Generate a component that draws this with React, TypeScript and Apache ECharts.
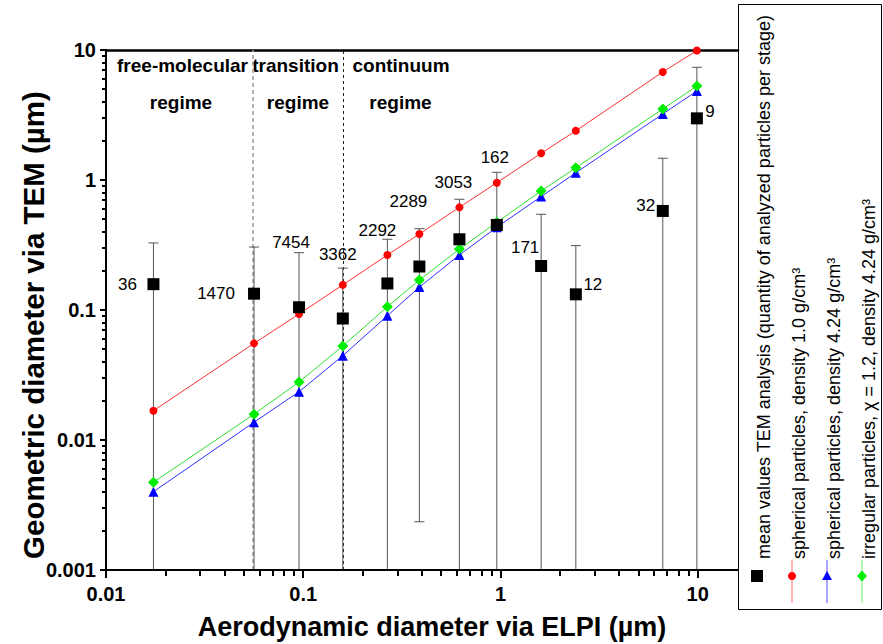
import { useEffect, useRef } from "react";
import * as echarts from "echarts";

const FONT = "'Liberation Sans', Arial, Helvetica, sans-serif";

// ELPI stage aerodynamic diameters (µm)
const stageDiameters = [0.0174, 0.0563, 0.0952, 0.1587, 0.267, 0.388, 0.619, 0.958, 1.607, 2.41, 6.65, 9.9];
// Mean geometric diameter via TEM (µm)
const temMean = [0.158, 0.1335, 0.105, 0.086, 0.16, 0.216, 0.35, 0.451, 0.218, 0.132, 0.578, 2.98];
// Error bar ends (null = below the axis range)
const temUpper = [0.328, 0.305, 0.276, 0.21, 0.35, 0.422, 0.711, 1.146, 0.545, 0.313, 1.47, 7.36];
const temLower: (number | null)[] = [null, null, null, null, null, 0.00235, null, null, null, null, null, null];
// Quantity of analyzed particles per stage
const particleCounts = [36, 1470, 7454, 3362, 2292, 2289, 3053, 162, 171, 12, 32, 9];
// Model curves
const sphericalDensity1 = [0.0168, 0.0554, 0.0931, 0.156, 0.265, 0.384, 0.616, 0.953, 1.605, 2.39, 6.78, 9.9];
const sphericalDensity424 = [0.004, 0.0137, 0.0235, 0.0445, 0.0903, 0.15, 0.265, 0.433, 0.745, 1.137, 3.22, 4.84];
const irregularDensity424 = [0.00473, 0.0158, 0.0279, 0.0528, 0.106, 0.17, 0.294, 0.473, 0.823, 1.243, 3.52, 5.28];
// Regime boundaries (µm)
const regimeBounds = [0.0557, 0.16];
// Tick labels
const xTickValues = [0.01, 0.1, 1, 10];
const xTickLabels = ["0.01", "0.1", "1", "10"];
const yTickValues = [0.001, 0.01, 0.1, 1, 10];
const yTickLabels = ["0.001", "0.01", "0.1", "1", "10"];

const legendNames = [
  "mean values TEM analysis (quantity of analyzed particles per stage)",
  "spherical particles, density 1.0 g/cm\u00B3",
  "spherical particles, density 4.24 g/cm\u00B3",
  "irregular particles, \u03C7 = 1.2, density 4.24 g/cm\u00B3",
];

// label offsets (layout) for the count annotations, px relative to the marker
const countLabelOffsets = [
  [-26, 0], [-38, 0], [-8, -65], [-5, -64], [-10, -53], [-11, -65],
  [-6, -57], [-2, -67], [-16, -19], [17, -10], [-17, -5], [13, -7],
];

const X_MIN = 0.01, X_MAX = 16, Y_MIN = 0.001, Y_MAX = 10;

function minorValues(decades: number[]) {
  const out: number[] = [];
  for (const d of decades) for (let k = 2; k <= 9; k++) out.push(+(d * k).toPrecision(3));
  return out;
}

function labelFor(values: number[], labels: string[]) {
  return (v: number) => {
    for (let i = 0; i < values.length; i++) {
      if (Math.abs(Math.log10(v) - Math.log10(values[i])) < 1e-6) return labels[i];
    }
    return "";
  };
}

export default function App() {
  const ref = useRef<HTMLDivElement>(null);

  useEffect(() => {
    document.body.style.margin = "0";
    const chart = echarts.init(ref.current!, null, { renderer: "svg" });

    const xMinor = minorValues([0.01, 0.1, 1]);
    const yMinor = minorValues([0.001, 0.01, 0.1, 1]);

    const legendX = [757, 792, 827, 862];
    const legendMarkerY = 576;
    const legendColors = ["#000", "#ff0000", "#0000ff", "#00ee00"];
    const legendLineColors = ["#000", "#ff7070", "#5050ff", "#60ee60"];

    const legendGraphics: any[] = [];
    legendNames.forEach((name, i) => {
      const cx = legendX[i];
      if (i > 0) {
        legendGraphics.push({
          type: "line",
          shape: { x1: cx, y1: 560, x2: cx, y2: 603 },
          style: { stroke: legendLineColors[i], lineWidth: 1 },
        });
      }
      if (i === 0) {
        legendGraphics.push({ type: "rect", shape: { x: cx - 6, y: legendMarkerY - 6, width: 12, height: 12 }, style: { fill: "#000" } });
      } else if (i === 1) {
        legendGraphics.push({ type: "circle", shape: { cx, cy: legendMarkerY, r: 4 }, style: { fill: legendColors[i] } });
      } else if (i === 2) {
        legendGraphics.push({
          type: "polygon",
          shape: { points: [[cx, legendMarkerY - 5], [cx + 5, legendMarkerY + 4], [cx - 5, legendMarkerY + 4]] },
          style: { fill: legendColors[i] },
        });
      } else {
        legendGraphics.push({
          type: "polygon",
          shape: { points: [[cx, legendMarkerY - 5.5], [cx + 5, legendMarkerY], [cx, legendMarkerY + 5.5], [cx - 5, legendMarkerY]] },
          style: { fill: legendColors[i] },
        });
      }
      legendGraphics.push({
        type: "text",
        x: cx + 7,
        y: 559,
        rotation: Math.PI / 2,
        style: {
          text: name,
          fill: "#000",
          font: `18px ${FONT}`,
          textAlign: "left",
          textVerticalAlign: "middle",
        },
      });
    });

    const boldText = (text: string, x: number, y: number, size: number, rotation = 0) => ({
      type: "text",
      x,
      y,
      rotation,
      style: {
        text,
        fill: "#000",
        font: `bold ${size}px ${FONT}`,
        textAlign: "center",
        textVerticalAlign: "middle",
      },
    });

    const option: any = {
      animation: false,
      backgroundColor: "#fff",
      grid: { left: 106, right: 145, top: 50, bottom: 74, containLabel: false },
      xAxis: [
        {
          type: "log",
          min: X_MIN,
          max: X_MAX,
          position: "bottom",
          z: 3,
          axisLine: { show: true, lineStyle: { color: "#000", width: 2 } },
          axisTick: { show: true, length: 8, inside: false, lineStyle: { color: "#000", width: 2 }, customValues: xTickValues },
          axisLabel: {
            show: true,
            margin: 14,
            color: "#000",
            fontFamily: FONT,
            fontWeight: "bold",
            fontSize: 20,
            customValues: xTickValues,
            formatter: labelFor(xTickValues, xTickLabels),
          },
          splitLine: { show: false },
          minorTick: { show: false },
        },
        {
          type: "log",
          min: X_MIN,
          max: X_MAX,
          position: "top",
          axisLine: { show: true, onZero: false, lineStyle: { color: "#000", width: 2.5 } },
          axisTick: { show: false },
          axisLabel: { show: false },
          splitLine: { show: false },
        },
        {
          // minor ticks of the bottom axis
          type: "log",
          min: X_MIN,
          max: X_MAX,
          position: "bottom",
          axisLine: { show: false, onZero: false },
          axisTick: { show: true, length: 6, inside: false, lineStyle: { color: "#000", width: 2 }, customValues: xMinor },
          axisLabel: { show: false, customValues: xMinor },
          splitLine: { show: false },
        },
      ],
      yAxis: [
        {
          type: "log",
          min: Y_MIN,
          max: Y_MAX,
          z: 3,
          axisLine: { show: true, lineStyle: { color: "#000", width: 2 } },
          axisTick: { show: true, length: 6, inside: false, lineStyle: { color: "#000", width: 2 }, customValues: yTickValues },
          axisLabel: {
            show: true,
            margin: 10,
            color: "#000",
            fontFamily: FONT,
            fontWeight: "bold",
            fontSize: 20,
            customValues: yTickValues,
            formatter: labelFor(yTickValues, yTickLabels),
          },
          splitLine: { show: false },
        },
        {
          // minor ticks of the left axis
          type: "log",
          min: Y_MIN,
          max: Y_MAX,
          position: "left",
          offset: 0,
          axisLine: { show: false, onZero: false },
          axisTick: { show: true, length: 4, inside: false, lineStyle: { color: "#000", width: 2 }, customValues: yMinor },
          axisLabel: { show: false, customValues: yMinor },
          splitLine: { show: false },
        },
      ],
      series: [
        // error bars
        {
          type: "custom",
          name: "errors",
          silent: true,
          z: 2,
          encode: { x: 0, y: 1 },
          data: stageDiameters.map((x, i) => [x, temUpper[i], temLower[i] == null ? NaN : temLower[i]]),
          renderItem: (_p: any, api: any) => {
            const x = api.value(0);
            const hi = api.value(1);
            const lo = api.value(2);
            const top = api.coord([x, hi]);
            const hasLow = isFinite(lo) && lo > Y_MIN;
            const botY = hasLow ? api.coord([x, lo])[1] : api.coord([x, Y_MIN])[1];
            const stroke = "#555";
            const children: any[] = [
              { type: "line", shape: { x1: top[0], y1: top[1], x2: top[0], y2: botY }, style: { stroke, lineWidth: 1 } },
              { type: "line", shape: { x1: top[0] - 5, y1: top[1], x2: top[0] + 5, y2: top[1] }, style: { stroke, lineWidth: 1 } },
            ];
            if (hasLow) {
              children.push({ type: "line", shape: { x1: top[0] - 5, y1: botY, x2: top[0] + 5, y2: botY }, style: { stroke, lineWidth: 1 } });
            }
            return { type: "group", children };
          },
        },
        {
          type: "line",
          name: legendNames[1],
          data: stageDiameters.map((x, i) => [x, sphericalDensity1[i]]),
          symbol: "circle",
          symbolSize: 8,
          z: 3,
          itemStyle: { color: "#ff0000" },
          lineStyle: { color: "#ff3030", width: 1 },
        },
        {
          type: "line",
          name: legendNames[2],
          data: stageDiameters.map((x, i) => [x, sphericalDensity424[i]]),
          symbol: "triangle",
          symbolSize: 10,
          z: 3,
          itemStyle: { color: "#0000ff" },
          lineStyle: { color: "#3030ff", width: 1 },
        },
        {
          type: "line",
          name: legendNames[3],
          data: stageDiameters.map((x, i) => [x, irregularDensity424[i]]),
          symbol: "diamond",
          symbolSize: 11,
          z: 3,
          itemStyle: { color: "#00ee00" },
          lineStyle: { color: "#30e030", width: 1 },
        },
        {
          type: "scatter",
          name: legendNames[0],
          z: 4,
          symbol: "rect",
          symbolSize: 12,
          itemStyle: { color: "#000", opacity: 1 },
          data: stageDiameters.map((x, i) => ({
            value: [x, temMean[i]],
            label: {
              show: true,
              position: "inside",
              offset: countLabelOffsets[i],
              formatter: String(particleCounts[i]),
              color: "#000",
              opacity: 1,
              fontFamily: FONT,
              fontSize: 17,
            },
          })),
          markLine: {
            silent: true,
            symbol: "none",
            precision: 5,
            label: { show: false },
            z: 1,
            data: [
              { xAxis: regimeBounds[0], lineStyle: { color: "#999", type: [4, 3], width: 1.5, opacity: 1 } },
              { xAxis: regimeBounds[1], lineStyle: { color: "#222", type: [3, 3], width: 1, opacity: 1 } },
            ],
          },
        },
      ],
      graphic: [
        boldText("free-molecular", 182.5, 65, 19),
        boldText("transition", 295.5, 65, 19),
        boldText("continuum", 401, 65, 19),
        boldText("regime", 181, 102, 19),
        boldText("regime", 298, 102, 19),
        boldText("regime", 400.5, 102, 19),
        boldText("Aerodynamic diameter via ELPI (\u00B5m)", 432, 627, 27),
        boldText("Geometric diameter via TEM (\u00B5m)", 33, 325, 29.5, Math.PI / 2),
        {
          type: "rect",
          shape: { x: 738.5, y: 4.5, width: 143, height: 605 },
          style: { fill: "none", stroke: "#000", lineWidth: 1 },
        },
        ...legendGraphics,
      ],
    };

    chart.setOption(option);
    return () => chart.dispose();
  }, []);

  return <div ref={ref} style={{ width: 883, height: 644 }} />;
}
